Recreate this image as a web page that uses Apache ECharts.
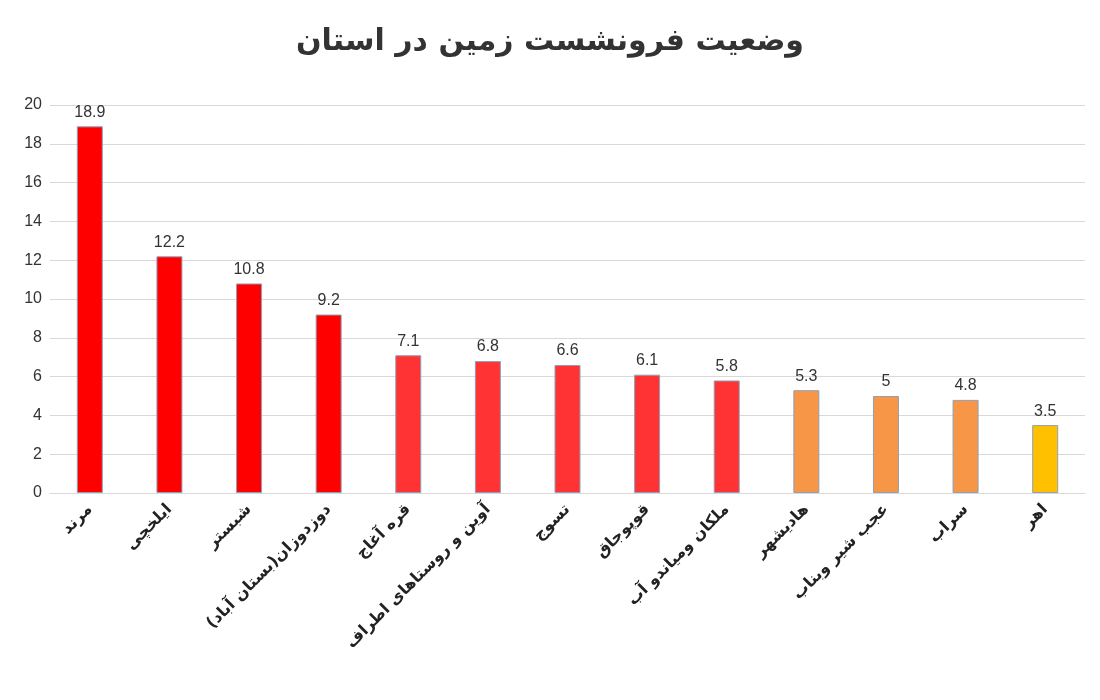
<!DOCTYPE html>
<html><head><meta charset="utf-8">
<script src="https://cdn.jsdelivr.net/npm/echarts@6/dist/echarts.min.js"></script>
<style>body{margin:0}#chart{width:1100px;height:700px}</style>
</head><body><div id="chart"></div>
<script>
const cities = ['مرند', 'ایلخچی', 'شبستر', 'دوزدوزان(بستان آباد)', 'قره آغاج', 'آوین و روستاهای اطراف', 'تسوج', 'قوپوجاق', 'ملکان ومیاندو آب', 'هادیشهر', 'عجب شیر وبناب', 'سراب', 'اهر'];
const subsidence = [18.9, 12.2, 10.8, 9.2, 7.1, 6.8, 6.6, 6.1, 5.8, 5.3, 5, 4.8, 3.5];
const barColors = ['#ff0000', '#ff0000', '#ff0000', '#ff0000', '#ff3333', '#ff3333', '#ff3333', '#ff3333', '#ff3333', '#f79646', '#f79646', '#f79646', '#ffc000'];

const chart = echarts.init(document.getElementById('chart'));
chart.setOption({
  title: {
    text: 'وضعیت فرونشست زمین در استان', left: 'center', top: 22,
    textStyle: { fontSize: 30, fontWeight: 'bold', color: '#333', fontFamily: 'DejaVu Sans' }
  },
  grid: { left: 50, right: 15, top: 105, bottom: 207 },
  xAxis: {
    type: 'category', data: cities,
    axisLine: { lineStyle: { color: '#d9d9d9' } },
    axisTick: { show: false },
    axisLabel: { rotate: 45, interval: 0, fontSize: 16, fontWeight: 'bold', color: '#222', margin: 14, fontFamily: 'DejaVu Sans' }
  },
  yAxis: {
    type: 'value', min: 0, max: 20, interval: 2,
    axisLabel: { fontSize: 16, color: '#333' },
    splitLine: { lineStyle: { color: '#d9d9d9' } }
  },
  series: [{
    type: 'bar', data: subsidence.map((v, i) => ({ value: v, itemStyle: { color: barColors[i] } })),
    barWidth: 26,
    itemStyle: { borderColor: '#8fa0b8', borderWidth: 1 },
    label: { show: true, position: 'top', fontSize: 16, color: '#333', distance: 6 }
  }]
});
</script></body></html>
